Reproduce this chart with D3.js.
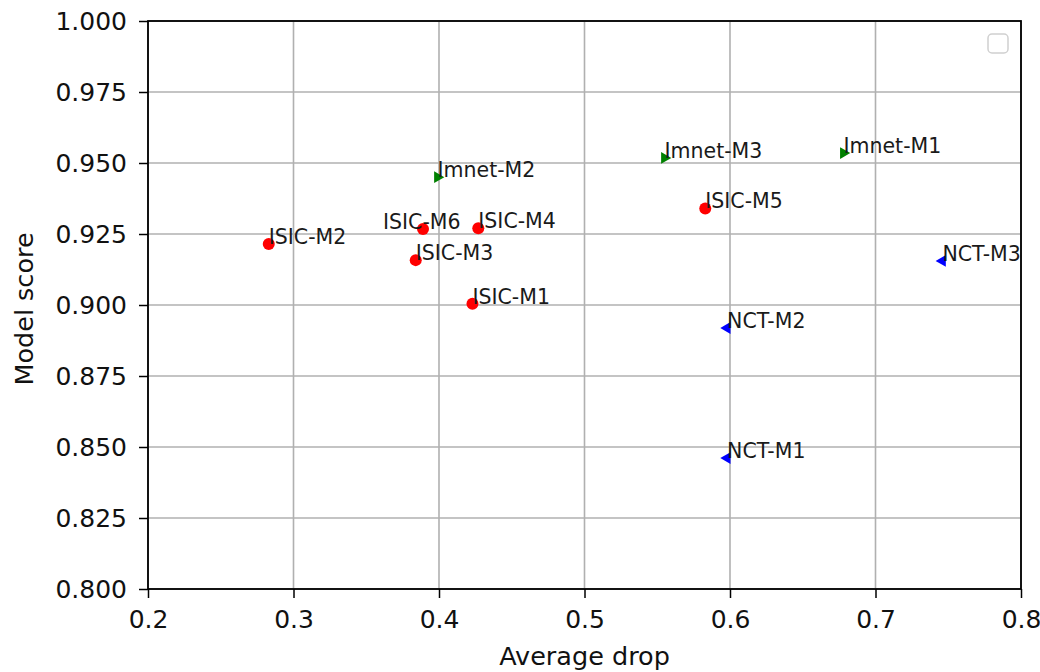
<!DOCTYPE html>
<html><head><meta charset="utf-8">
<script src="https://cdn.jsdelivr.net/npm/d3@7"></script>
<style>body{margin:0;background:#fff}text{font-family:"DejaVu Sans",sans-serif}</style>
</head><body>
<svg id="c" width="1040" height="672"></svg>
<script>
const isicLabels = ["ISIC-M1","ISIC-M2","ISIC-M3","ISIC-M4","ISIC-M5","ISIC-M6"];
const isicX = [0.423, 0.283, 0.384, 0.427, 0.583, 0.389];
const isicY = [0.9004, 0.9215, 0.9158, 0.927, 0.934, 0.9268];
const isicLabelX = [0.423, 0.283, 0.384, 0.427, 0.583, 0.3615];
const imnetLabels = ["Imnet-M1","Imnet-M2","Imnet-M3"];
const imnetX = [0.678, 0.399, 0.555];
const imnetY = [0.9535, 0.945, 0.9518];
const nctLabels = ["NCT-M1","NCT-M2","NCT-M3"];
const nctX = [0.598, 0.598, 0.746];
const nctY = [0.8461, 0.8919, 0.9155];
const xTicks = [0.2,0.3,0.4,0.5,0.6,0.7,0.8];
const yTicks = [0.800,0.825,0.850,0.875,0.900,0.925,0.950,0.975,1.000];

const svg = d3.select("#c");
const L=148,R=1021,T=21,B=589;
const x = d3.scaleLinear().domain([0.2,0.8]).range([L,R]);
const y = d3.scaleLinear().domain([0.8,1.0]).range([B,T]);

// grid
const g = svg.append("g");
g.selectAll(".gx").data(xTicks).join("line").attr("x1",d=>x(d)).attr("x2",d=>x(d)).attr("y1",T).attr("y2",B).attr("stroke","#b0b0b0").attr("stroke-width",1.6);
g.selectAll(".gy").data(yTicks).join("line").attr("y1",d=>y(d)).attr("y2",d=>y(d)).attr("x1",L).attr("x2",R).attr("stroke","#b0b0b0").attr("stroke-width",1.6);

// axes
const xa = svg.append("g").attr("transform",`translate(0,${B})`).call(d3.axisBottom(x).tickValues(xTicks).tickFormat(d3.format(".1f")).tickSize(9).tickPadding(12));
const ya = svg.append("g").attr("transform",`translate(${L},0)`).call(d3.axisLeft(y).tickValues(yTicks).tickFormat(d3.format(".3f")).tickSize(9).tickPadding(12));
[xa,ya].forEach(a=>{a.select(".domain").remove();a.selectAll("line").attr("stroke","#000").attr("stroke-width",1.5);a.selectAll("text").attr("font-size",25).attr("fill","#111").attr("font-family","DejaVu Sans");});
xa.selectAll("text").attr("dy","0.73em");
svg.append("rect").attr("x",L).attr("y",T).attr("width",R-L).attr("height",B-T).attr("fill","none").attr("stroke","#000").attr("stroke-width",1.8);

// points
const pts = svg.append("g");
isicX.forEach((v,i)=>pts.append("circle").attr("cx",x(v)).attr("cy",y(isicY[i])).attr("r",6).attr("fill","#ff0000"));
const triR = d3.symbol().type(d3.symbolTriangle).size(60);
imnetX.forEach((v,i)=>pts.append("path").attr("d",triR()).attr("transform",`translate(${x(v)},${y(imnetY[i])}) rotate(90)`).attr("fill","#008000"));
nctX.forEach((v,i)=>pts.append("path").attr("d",triR()).attr("transform",`translate(${x(v)},${y(nctY[i])}) rotate(-90)`).attr("fill","#0000ff"));

// labels
const lab = svg.append("g").attr("font-size",20.5).attr("fill","#1a1a1a");
function addLabels(xs,ys,ls){xs.forEach((v,i)=>lab.append("text").attr("x",x(v)).attr("y",y(ys[i])).text(ls[i]));}
addLabels(isicLabelX,isicY,isicLabels);
addLabels(imnetX,imnetY,imnetLabels);
addLabels(nctX,nctY,nctLabels);

// axis titles
svg.append("text").attr("x",(L+R)/2).attr("y",665).attr("text-anchor","middle").attr("font-size",25.5).attr("fill","#111").text("Average drop");
svg.append("text").attr("transform",`translate(33,${(T+B)/2+4}) rotate(-90)`).attr("text-anchor","middle").attr("font-size",25.5).attr("fill","#111").text("Model score");

// empty legend
svg.append("rect").attr("x",988).attr("y",34).attr("width",20).attr("height",19).attr("rx",4).attr("fill","#fff").attr("stroke","#d0d0d0").attr("stroke-width",1.5);
</script>
</body></html>
